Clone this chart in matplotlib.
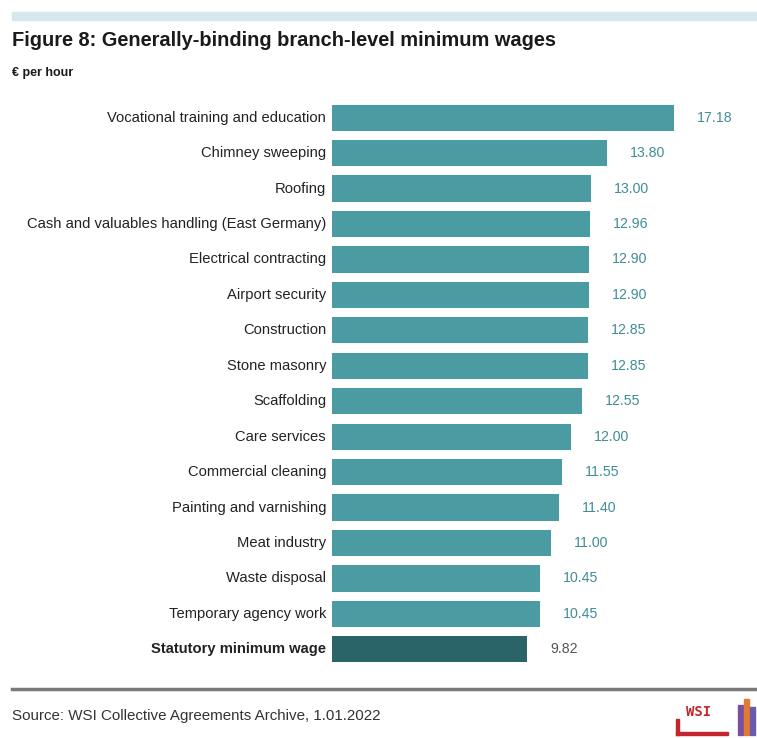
import matplotlib.pyplot as plt
from matplotlib.patches import Rectangle
from matplotlib.lines import Line2D

# branch-level minimum wages, EUR per hour (top to bottom)
branches = [
    "Vocational training and education",
    "Chimney sweeping",
    "Roofing",
    "Cash and valuables handling (East Germany)",
    "Electrical contracting",
    "Airport security",
    "Construction",
    "Stone masonry",
    "Scaffolding",
    "Care services",
    "Commercial cleaning",
    "Painting and varnishing",
    "Meat industry",
    "Waste disposal",
    "Temporary agency work",
    "Statutory minimum wage",
]
wages = [17.18, 13.80, 13.00, 12.96, 12.90, 12.90, 12.85, 12.85,
         12.55, 12.00, 11.55, 11.40, 11.00, 10.45, 10.45, 9.82]

bar_col = "#4b9ba3"
stat_col = "#2a6368"
lab_col = "#3f8d96"

plt.rcParams['font.family'] = ['Liberation Sans', 'DejaVu Sans']

W, H = 757, 738
fig = plt.figure(figsize=(W / 100, H / 100), dpi=100)

# axes placed in pixel terms
left, right = 332, 757
top, bottom = 100, 667
ax = fig.add_axes([left / W, 1 - bottom / H, (right - left) / W, (bottom - top) / H])

n = len(wages)
ypos = list(range(n))
colors = [bar_col] * (n - 1) + [stat_col]
ax.barh(ypos, wages, height=0.74, color=colors)
ax.set_ylim(n - 0.5, -0.5)
ax.set_xlim(0, (right - left) / 19.9)

for i, (name, v) in enumerate(zip(branches, wages)):
    last = i == n - 1
    ax.text(-0.3, i, name, ha='right', va='center', fontsize=10.6,
            color='#222222', fontweight='bold' if last else 'normal')
    ax.text(v + 1.15, i, f"{v:.2f}", ha='left', va='center', fontsize=10.2,
            color='#555555' if last else lab_col)

ax.axis('off')

# header band and title
fig.patches.append(Rectangle((12 / W, 1 - 20 / H), (W - 12) / W, 8 / H,
                             transform=fig.transFigure, color='#d4e8ee', zorder=0))
fig.text(12 / W, 1 - 41 / H, "Figure 8: Generally-binding branch-level minimum wages",
         fontsize=14.4, fontweight='bold', color='#1a1a1a', va='center')
fig.text(12 / W, 1 - 73 / H, "€ per hour", fontsize=9, fontweight='bold',
         color='#1a1a1a', va='center')

# footer rule and source line
fig.lines.append(Line2D([12 / W, 1], [1 - 689 / H, 1 - 689 / H],
                        transform=fig.transFigure, color='#7a7a7a', lw=2.5))
fig.text(12 / W, 1 - 716 / H, "Source: WSI Collective Agreements Archive, 1.01.2022",
         fontsize=10.9, color='#333333', va='center')

# small WSI logo
fig.text(686 / W, 1 - 712 / H, "WSI", fontsize=10, fontweight='bold',
         color='#c4262e', family='DejaVu Sans Mono', va='center')
fig.patches.append(Rectangle((676 / W, 1 - 735 / H), 52 / W, 3 / H,
                             transform=fig.transFigure, color='#c4262e'))
fig.patches.append(Rectangle((676 / W, 1 - 735 / H), 3 / W, 16 / H,
                             transform=fig.transFigure, color='#c4262e'))
for x0, h, c in [(738, 30, '#7b4fa0'), (744, 36, '#e07b30'), (750, 28, '#6a5ab0')]:
    fig.patches.append(Rectangle((x0 / W, 1 - 735 / H), 5 / W, h / H,
                                 transform=fig.transFigure, color=c))

fig.savefig("out.png", dpi=100)
